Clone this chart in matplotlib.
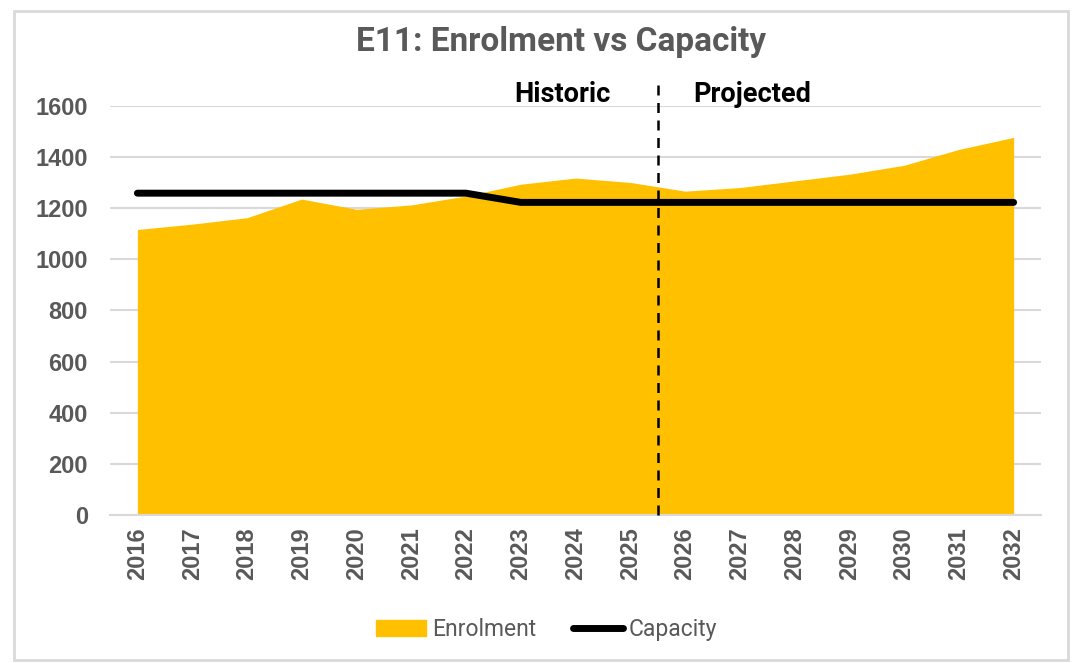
import matplotlib.pyplot as plt
from matplotlib.patches import Rectangle
from matplotlib.lines import Line2D

# Enrolment (historic to 2025, projected after) and school capacity
years = list(range(2016, 2033))
enrolment = [1116, 1137, 1162, 1235, 1195, 1212, 1247, 1293, 1317,
             1300, 1266, 1280, 1306, 1332, 1367, 1429, 1476]
capacity = [1258, 1258, 1258, 1258, 1258, 1258, 1258, 1222, 1222,
            1222, 1222, 1222, 1222, 1222, 1222, 1222, 1222]
y_ticks = [0, 200, 400, 600, 800, 1000, 1200, 1400, 1600]
split_year = 2025.5

gold = '#FFC000'
grey = '#595959'

fig = plt.figure(figsize=(10.72, 6.63), dpi=100)
ax = fig.add_axes([0.1026, 0.2232, 0.8685, 0.6174])

ax.fill_between(years, enrolment, 0, color=gold, linewidth=0, zorder=2)
ax.plot(years, capacity, color='black', linewidth=5, solid_capstyle='round', zorder=3)

ax.set_xlim(2015.5, 2032.5)
ax.set_ylim(0, 1600)
ax.set_yticks(y_ticks)
ax.set_xticks(years)
ax.set_xticklabels([str(y) for y in years], rotation=90)
ax.grid(axis='y', color='#D9D9D9', linewidth=1.5, zorder=0)
ax.set_axisbelow(True)
for side in ['top', 'right', 'left']:
    ax.spines[side].set_visible(False)
ax.spines['bottom'].set_color('#D9D9D9')
ax.spines['bottom'].set_linewidth(1.5)
ax.tick_params(length=0, pad=16)
ax.tick_params(axis='x', pad=9)
for lab in ax.get_xticklabels() + ax.get_yticklabels():
    lab.set_family('Liberation Sans')
    lab.set_fontweight('bold')
    lab.set_fontsize(17)
    lab.set_color(grey)

# Historic / projected divider
ax.plot([split_year, split_year], [0, 1680], color='black', linewidth=1.8,
        linestyle=(0, (4, 3)), clip_on=False, zorder=4)
ax.text(split_year - 0.85, 1645, 'Historic', ha='right', va='center',
        family='Roboto', fontweight='bold', fontsize=19.5, color='black')
ax.text(split_year + 0.65, 1645, 'Projected', ha='left', va='center',
        family='Roboto', fontweight='bold', fontsize=19.5, color='black')

fig.text(0.523, 0.937, 'E11: Enrolment vs Capacity', ha='center', va='center',
         family='Roboto', fontweight='bold', fontsize=24, color=grey)

handles = [Rectangle((0, 0), 1, 1, color=gold),
           Line2D([0], [0], color='black', linewidth=5, solid_capstyle='round')]
fig.legend(handles, ['Enrolment', 'Capacity'], loc='center', ncol=2,
           bbox_to_anchor=(0.51, 0.051), frameon=False,
           prop={'family': 'Roboto', 'size': 16.5},
           labelcolor=grey, handlelength=2.2, handletextpad=0.25,
           columnspacing=1.6)

# light outer frame
fig.patches.append(Rectangle((0.013, 0.004), 0.983, 0.98, transform=fig.transFigure,
                             fill=False, edgecolor='#D9D9D9', linewidth=2))

fig.savefig('out.png', dpi=100)
